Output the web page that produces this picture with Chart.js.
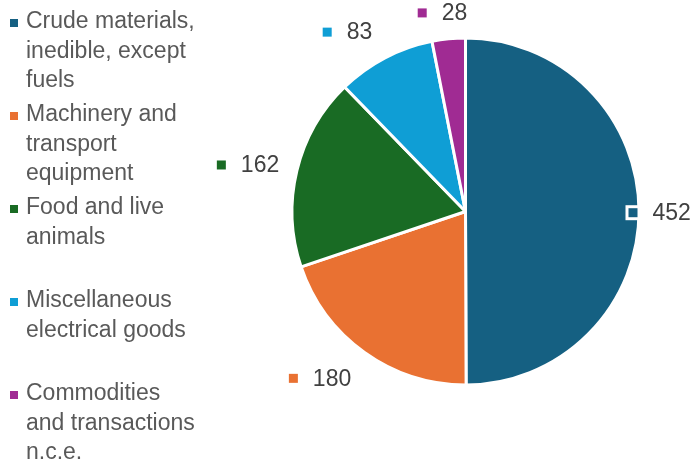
<!DOCTYPE html>
<html>
<head>
<meta charset="utf-8">
<script src="https://cdn.jsdelivr.net/npm/chart.js@4/dist/chart.umd.min.js"></script>
<style>
  html, body { margin: 0; padding: 0; background: #ffffff; }
  #wrap { position: relative; width: 692px; height: 461px; }
</style>
</head>
<body>
<div id="wrap"><canvas id="c" width="692" height="461"></canvas></div>
<script>
// Category names, pre-wrapped into the lines shown in the legend
const categories = [
  ['Crude materials,', 'inedible, except', 'fuels'],
  ['Machinery and', 'transport', 'equipment'],
  ['Food and live', 'animals'],
  ['Miscellaneous', 'electrical goods'],
  ['Commodities', 'and transactions', 'n.c.e.']
];
const values = [452, 180, 162, 83, 28];
const colors = ['#156082', '#E97132', '#196B24', '#0F9ED5', '#A02B93'];

// Styling
const FONT_FAMILY = '"Liberation Sans", Arial, sans-serif';
const FONT_SIZE = 23;
const LEGEND_COLOR = '#595959';
const VALUE_COLOR = '#404040';
// Shift of each value label from the rim point on its slice's bisector
const labelNudge = [[-4.5, 1.5], [-72, 27], [-77, -6], [-58.5, -27], [-26.6, -27.4]];

const pieAnnotations = {
  id: 'pieAnnotations',
  afterDraw(chart) {
    const ctx = chart.ctx;
    const meta = chart.getDatasetMeta(0);
    ctx.save();
    ctx.font = FONT_SIZE + 'px ' + FONT_FAMILY;
    ctx.textBaseline = 'middle';
    ctx.textAlign = 'left';

    // value labels beside each slice
    meta.data.forEach((arc, i) => {
      const p = arc.getProps(['x', 'y', 'startAngle', 'endAngle', 'outerRadius'], true);
      const mid = (p.startAngle + p.endAngle) / 2;
      const rim = p.outerRadius - 1.5;
      const px = p.x + Math.cos(mid) * rim + labelNudge[i][0];
      const py = p.y + Math.sin(mid) * rim + labelNudge[i][1];
      ctx.fillStyle = '#ffffff';
      ctx.fillRect(px - 7.5, py - 7.5, 15, 15);
      ctx.fillStyle = colors[i];
      ctx.fillRect(px - 4.5, py - 4.5, 9, 9);
      ctx.fillStyle = VALUE_COLOR;
      ctx.fillText(String(values[i]), px + 19.5, py + 1);
    });

    // legend on the left
    const itemStep = 93;
    const lineStep = 29.3;
    categories.forEach((lines, i) => {
      const y0 = 22 + itemStep * i;
      ctx.fillStyle = colors[i];
      ctx.fillRect(10, y0 - 3, 8, 8);
      ctx.fillStyle = LEGEND_COLOR;
      lines.forEach((t, j) => ctx.fillText(t, 26, y0 + j * lineStep));
    });
    ctx.restore();
  }
};

new Chart(document.getElementById('c'), {
  type: 'pie',
  data: {
    labels: categories,
    datasets: [{
      data: values,
      backgroundColor: colors,
      borderColor: '#ffffff',
      borderWidth: 3
    }]
  },
  options: {
    responsive: false,
    animation: false,
    radius: 173.5,
    layout: { padding: { left: 290, right: 51, top: 36, bottom: 74 } },
    plugins: {
      legend: { display: false },
      tooltip: { enabled: false }
    }
  },
  plugins: [pieAnnotations]
});
</script>
</body>
</html>
